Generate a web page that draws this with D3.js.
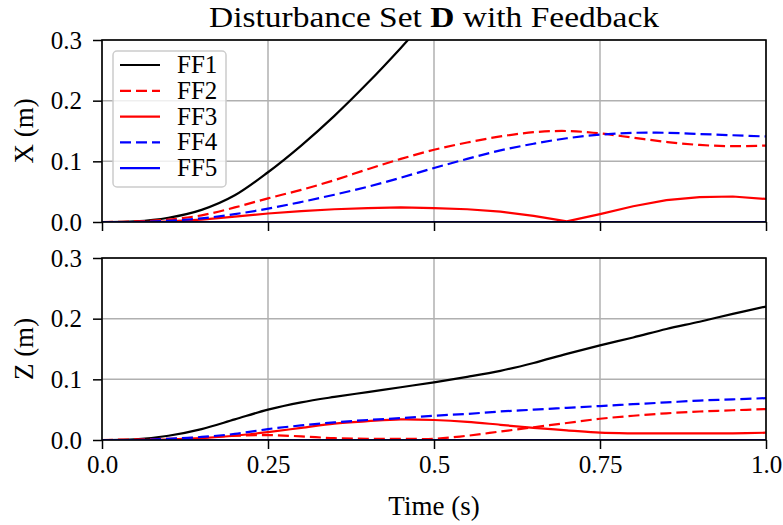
<!DOCTYPE html>
<html>
<head>
<meta charset="utf-8">
<script src="https://cdn.jsdelivr.net/npm/d3@7"></script>
<style>
  body { margin: 0; background: #fff; }
  svg, svg text { font-family: "Liberation Serif", "DejaVu Serif", serif; fill: #000; }
</style>
</head>
<body>
<div id="chart"></div>
<script>
// time samples (s)
const times = [0, 0.05, 0.1, 0.15, 0.2, 0.25, 0.3, 0.35, 0.4, 0.45, 0.5,
               0.55, 0.6, 0.65, 0.7, 0.75, 0.8, 0.85, 0.9, 0.95, 1.0];

// X displacement (m) -- FF1 leaves the plot above 0.3
const xFF1 = [0, 0.001, 0.007, 0.020, 0.044, 0.082, 0.126, 0.175, 0.229, 0.287, 0.348, 0.41];
const xFF2 = [0, 0.001, 0.004, 0.011, 0.024, 0.039, 0.053, 0.069, 0.087, 0.104, 0.119,
              0.131, 0.141, 0.148, 0.150, 0.146, 0.139, 0.132, 0.127, 0.125, 0.126];
const xFF3 = [0, 0.000, 0.001, 0.004, 0.009, 0.014, 0.018, 0.021, 0.023, 0.024, 0.023,
              0.021, 0.017, 0.010, 0.001, 0.013, 0.026, 0.036, 0.041, 0.042, 0.038];
const xFF4 = [0, 0.000, 0.002, 0.006, 0.013, 0.022, 0.033, 0.045, 0.058, 0.073, 0.089,
              0.104, 0.118, 0.129, 0.138, 0.144, 0.147, 0.147, 0.145, 0.143, 0.141];
const xFF5 = [0, 0, 0, 0, 0, 0, 0, 0, 0, 0, 0, 0, 0, 0, 0, 0, 0, 0, 0, 0, 0];

// Z displacement (m)
const zFF1 = [0, 0.001, 0.007, 0.018, 0.034, 0.050, 0.062, 0.071, 0.079, 0.087, 0.095,
              0.104, 0.114, 0.127, 0.142, 0.156, 0.169, 0.183, 0.195, 0.208, 0.220];
const zFF2 = [0, 0.001, 0.002, 0.004, 0.007, 0.008, 0.006, 0.003, 0.002, 0.002, 0.002,
              0.007, 0.014, 0.021, 0.028, 0.035, 0.040, 0.044, 0.047, 0.049, 0.051];
const zFF3 = [0, 0.000, 0.001, 0.003, 0.007, 0.013, 0.020, 0.027, 0.031, 0.034, 0.033,
              0.030, 0.025, 0.020, 0.016, 0.012, 0.011, 0.011, 0.011, 0.011, 0.012];
const zFF4 = [0, 0.000, 0.002, 0.005, 0.010, 0.018, 0.024, 0.029, 0.033, 0.036, 0.040,
              0.043, 0.047, 0.050, 0.053, 0.056, 0.059, 0.062, 0.065, 0.067, 0.069];
const zFF5 = [0, 0, 0, 0, 0, 0, 0, 0, 0, 0, 0, 0, 0, 0, 0, 0, 0, 0, 0, 0, 0];

const names = ["FF1", "FF2", "FF3", "FF4", "FF5"];
const colors = ["#000000", "#ff0000", "#ff0000", "#0000ff", "#0000ff"];
const dashed = [false, true, false, true, false];

const xTicks = [0, 0.25, 0.5, 0.75, 1.0];
const xTickLabels = ["0.0", "0.25", "0.5", "0.75", "1.0"];
const yTicks = [0, 0.1, 0.2, 0.3];

const width = 783, height = 525;
const left = 102, right = 766;
const serif = '"Liberation Serif", "DejaVu Serif", serif';

const svg = d3.select("#chart").append("svg")
    .attr("width", width)
    .attr("height", height)
    .style("font-family", serif);

const xScale = d3.scaleLinear().domain([0, 1]).range([left, right]);

const panels = [
    { id: "px", top: 40, bottom: 222, label: "X (m)", series: [xFF1, xFF2, xFF3, xFF4, xFF5], showX: false },
    { id: "pz", top: 258, bottom: 440, label: "Z (m)", series: [zFF1, zFF2, zFF3, zFF4, zFF5], showX: true }
];

panels.forEach(function(p) {
    const yScale = d3.scaleLinear().domain([0, 0.3]).range([p.bottom, p.top]);
    const g = svg.append("g");

    g.append("clipPath").attr("id", "clip-" + p.id)
      .append("rect")
        .attr("x", left).attr("y", p.top)
        .attr("width", right - left).attr("height", p.bottom - p.top);

    // grid
    g.append("g").selectAll("line").data(xTicks).join("line")
        .attr("x1", d => xScale(d)).attr("x2", d => xScale(d))
        .attr("y1", p.top).attr("y2", p.bottom)
        .attr("stroke", "#b0b0b0").attr("stroke-width", 1.5);
    g.append("g").selectAll("line").data(yTicks).join("line")
        .attr("x1", left).attr("x2", right)
        .attr("y1", d => yScale(d)).attr("y2", d => yScale(d))
        .attr("stroke", "#b0b0b0").attr("stroke-width", 1.5);

    // lines
    const lines = g.append("g").attr("clip-path", "url(#clip-" + p.id + ")");
    p.series.forEach(function(vals, i) {
        const pts = vals.map((v, k) => [times[k], v]);
        // FF3 in X has a sharp corner where it touches zero
        const curve = (p.id === "px" && i === 2) ? d3.curveLinear : d3.curveCatmullRom.alpha(0.5);
        const line = d3.line()
            .x(d => xScale(d[0]))
            .y(d => yScale(d[1]))
            .curve(curve);
        lines.append("path")
            .attr("d", line(pts))
            .attr("fill", "none")
            .attr("stroke", colors[i])
            .attr("stroke-width", 2.2)
            .attr("stroke-dasharray", dashed[i] ? "11,5" : null);
    });

    // axes
    const yAxis = d3.axisLeft(yScale).tickValues(yTicks).tickFormat(d3.format(".1f"))
        .tickSize(9).tickPadding(11);
    const ya = g.append("g").attr("transform", `translate(${left},0)`).call(yAxis);
    const xAxis = d3.axisBottom(xScale).tickValues(xTicks)
        .tickFormat((d, i) => p.showX ? xTickLabels[i] : "")
        .tickSize(9).tickPadding(6);
    const xa = g.append("g").attr("transform", `translate(0,${p.bottom})`).call(xAxis);
    [ya, xa].forEach(a => {
        a.attr("font-family", serif);
        a.select(".domain").remove();
        a.selectAll(".tick line").attr("stroke", "#000").attr("stroke-width", 1.5);
        a.selectAll(".tick text").style("font-size", "25px").style("font-family", serif);
    });

    // frame
    g.append("rect")
        .attr("x", left).attr("y", p.top)
        .attr("width", right - left).attr("height", p.bottom - p.top)
        .attr("fill", "none").attr("stroke", "#000").attr("stroke-width", 1.6);

    g.append("text")
        .attr("transform", `translate(33,${(p.top + p.bottom) / 2}) rotate(-90)`)
        .attr("text-anchor", "middle")
        .style("font-size", "27px")
        .text(p.label);
});

// legend in the top panel
const legend = svg.append("g").attr("transform", "translate(113,51)");
legend.append("rect")
    .attr("width", 113).attr("height", 136)
    .attr("rx", 4)
    .attr("fill", "#fff").attr("fill-opacity", 0.8)
    .attr("stroke", "#cccccc").attr("stroke-width", 1.5);
names.forEach(function(n, i) {
    const row = legend.append("g").attr("transform", `translate(0,${14 + i * 25.8})`);
    row.append("line")
        .attr("x1", 7).attr("x2", 47)
        .attr("stroke", colors[i]).attr("stroke-width", 2.2)
        .attr("stroke-dasharray", dashed[i] ? "11,5" : null);
    row.append("text")
        .attr("x", 64).attr("y", 8)
        .style("font-size", "25px")
        .text(n);
});

// title and x label
svg.append("text")
    .attr("x", (left + right) / 2).attr("y", 27)
    .attr("text-anchor", "middle")
    .attr("textLength", 450)
    .attr("lengthAdjust", "spacingAndGlyphs")
    .style("font-size", "29px")
    .html('Disturbance Set <tspan font-weight="bold">D</tspan> with Feedback');

svg.append("text")
    .attr("x", (left + right) / 2).attr("y", 515)
    .attr("text-anchor", "middle")
    .style("font-size", "27px")
    .text("Time (s)");
</script>
</body>
</html>
